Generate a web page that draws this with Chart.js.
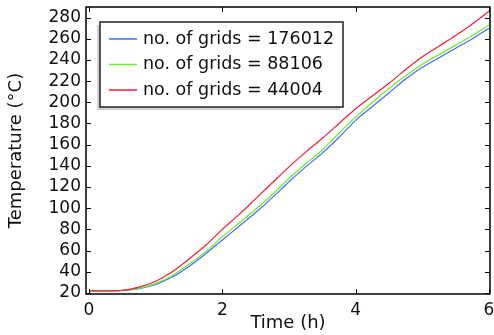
<!DOCTYPE html>
<html>
<head>
<meta charset="utf-8">
<script src="https://cdn.jsdelivr.net/npm/chart.js@4/dist/chart.umd.min.js"></script>
<style>
  html, body { margin: 0; padding: 0; background: #fff; }
  #wrap { width: 494px; height: 335px; }
</style>
</head>
<body>
<div id="wrap"><canvas id="temp-chart"></canvas></div>
<script>
// time in hours
const hours = [0, 0.25, 0.5, 0.75, 1, 1.25, 1.5, 1.75, 2, 2.25, 2.5, 2.75, 3,
  3.25, 3.5, 3.75, 4, 4.25, 4.5, 4.75, 5, 5.25, 5.5, 5.75, 6]

const grids176012 = [22, 22, 22.3, 24, 28, 35, 45, 57, 70, 83, 96, 110, 125,
  139, 152, 167, 183, 196, 209, 222, 233, 242, 251, 260, 270]
const grids88106 = [22, 22, 22.5, 24.2, 29, 36.5, 47, 59, 73, 86, 99, 113, 128,
  142, 155, 171, 186, 200, 213, 225, 236, 245, 254, 263, 273]
const grids44004 = [22, 22, 22.5, 25.5, 31, 40, 52, 65, 80, 94, 109, 124, 139,
  153, 166, 180, 194, 206, 218, 231, 243, 253, 263, 274, 286]

const seriesLabels = ['no. of grids = 176012', 'no. of grids = 88106', 'no. of grids = 44004']
const xTicks = [0, 2, 4, 6]
const yTicks = [20, 40, 60, 80, 100, 120, 140, 160, 180, 200, 220, 240, 260, 280]

const FONT = 'DejaVu Sans'

const toPoints = (ys) => hours.map((h, i) => ({ x: h, y: ys[i] }))

// box round the plot + ticks pointing inward on all four sides
const frameTicks = {
  id: 'frameTicks',
  afterDatasetsDraw(chart) {
    const { ctx, chartArea: a, scales } = chart
    ctx.save()
    ctx.strokeStyle = '#000'
    ctx.lineWidth = 1
    ctx.beginPath()
    xTicks.forEach((v) => {
      const px = Math.round(scales.x.getPixelForValue(v)) + 0.5
      ctx.moveTo(px, a.bottom); ctx.lineTo(px, a.bottom - 5)
      ctx.moveTo(px, a.top); ctx.lineTo(px, a.top + 5)
    })
    yTicks.forEach((v) => {
      const py = Math.round(scales.y.getPixelForValue(v)) + 0.5
      ctx.moveTo(a.left, py); ctx.lineTo(a.left + 5, py)
      ctx.moveTo(a.right, py); ctx.lineTo(a.right - 5, py)
    })
    ctx.stroke()
    ctx.lineWidth = 1.5
    ctx.strokeRect(a.left, a.top, a.right - a.left, a.bottom - a.top)
    ctx.restore()
  }
}

// legend box inside the plot, top-left, with a grey shadow
const boxLegend = {
  id: 'boxLegend',
  afterDraw(chart) {
    const { ctx, chartArea: a } = chart
    const x0 = a.left + 14, y0 = a.top + 15, w = 243, h = 85
    ctx.save()
    ctx.fillStyle = '#cfcfcf'
    ctx.fillRect(x0 - 3, y0 + 3, w, h)
    ctx.fillStyle = '#fff'
    ctx.fillRect(x0, y0, w, h)
    ctx.strokeStyle = '#222'
    ctx.lineWidth = 1.5
    ctx.strokeRect(x0, y0, w, h)
    ctx.font = '17.5px "' + FONT + '"'
    ctx.textBaseline = 'middle'
    chart.data.datasets.forEach((ds, i) => {
      const cy = y0 + 17 + i * 25.5
      ctx.strokeStyle = ds.borderColor
      ctx.lineWidth = 1.5
      ctx.beginPath()
      ctx.moveTo(x0 + 9, cy); ctx.lineTo(x0 + 37, cy)
      ctx.stroke()
      ctx.fillStyle = '#111'
      ctx.fillText(ds.label, x0 + 43, cy)
    })
    ctx.restore()
  }
}

const lineCtx = document.getElementById('temp-chart').getContext('2d')
new Chart(lineCtx, {
  type: 'line',
  data: {
    datasets: [
      { label: seriesLabels[0], data: toPoints(grids176012), borderColor: 'rgb(60,110,255)', order: 2 },
      { label: seriesLabels[1], data: toPoints(grids88106), borderColor: 'rgb(110,235,40)', order: 1 },
      { label: seriesLabels[2], data: toPoints(grids44004), borderColor: 'rgb(240,30,50)', order: 0 },
    ],
  },
  options: {
    responsive: true,
    maintainAspectRatio: false,
    animation: false,
    layout: { padding: { top: 7, right: 4, left: 0, bottom: 0 } },
    elements: {
      point: { radius: 0 },
      line: { borderWidth: 1.2, tension: 0.3, fill: false },
    },
    plugins: { legend: { display: false }, tooltip: { enabled: false } },
    scales: {
      x: {
        type: 'linear',
        min: -0.045,
        max: 6.015,
        afterBuildTicks: (s) => { s.ticks = xTicks.map(v => ({ value: v })) },
        afterFit: (s) => { s.height = 41; s.paddingLeft = 0; s.paddingRight = 0 },
        grid: { display: false, drawTicks: false },
        border: { display: false },
        ticks: { color: '#111', padding: 6, autoSkip: false, maxRotation: 0, font: { family: FONT, size: 17 } },
        title: { display: true, text: 'Time (h)', color: '#111', padding: { top: 0, bottom: 1 }, font: { family: FONT, size: 18 } },
      },
      y: {
        min: 19,
        max: 290,
        afterBuildTicks: (s) => { s.ticks = yTicks.map(v => ({ value: v })) },
        afterFit: (s) => { s.width = 86; s.paddingTop = 0; s.paddingBottom = 0 },
        grid: { display: false, drawTicks: false },
        border: { display: false },
        ticks: { color: '#111', padding: 5, autoSkip: false, font: { family: FONT, size: 17 } },
        title: { display: true, text: 'Temperature (°C)', color: '#111', padding: { top: 6, bottom: 0 }, font: { family: FONT, size: 18 } },
      },
    },
  },
  plugins: [frameTicks, boxLegend],
})
</script>
</body>
</html>
